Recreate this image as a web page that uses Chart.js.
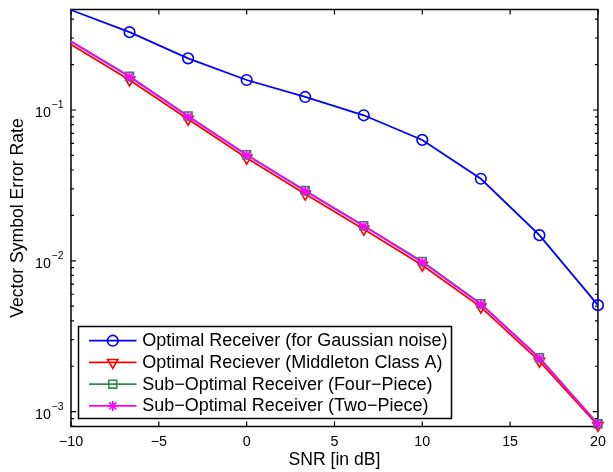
<!DOCTYPE html>
<html>
<head>
<meta charset="utf-8">
<script src="https://cdn.jsdelivr.net/npm/chart.js@4/dist/chart.umd.min.js"></script>
<style>
  html, body { margin: 0; padding: 0; background: #fff; }
  canvas { display: block; }
</style>
</head>
<body>
<canvas id="ser" width="613" height="472"></canvas>
<script>
// SNR sweep (dB)
const snrDb = [-10, -6.667, -3.333, 0, 3.333, 6.667, 10, 13.333, 16.667, 20];

// Vector symbol error rate for each receiver
const serGaussianRx = [0.46, 0.328, 0.220, 0.158, 0.122, 0.0922, 0.0633, 0.0350, 0.0148, 0.00508];
const serClassARx   = [0.272, 0.158, 0.0868, 0.0480, 0.0277, 0.0162, 0.00935, 0.00493, 0.00216, 0.00081];
const serFourPiece  = [0.285, 0.167, 0.0912, 0.0505, 0.0292, 0.0171, 0.0099, 0.00520, 0.00228, 0.00083];
const serTwoPiece   = [0.284, 0.166, 0.0905, 0.0503, 0.0290, 0.0170, 0.0098, 0.00516, 0.00226, 0.000828];

const seriesLabels = [
  'Optimal Receiver (for Gaussian noise)',
  'Optimal Reciever (Middleton Class A)',
  'Sub\u2212Optimal Receiver (Four\u2212Piece)',
  'Sub\u2212Optimal Receiver (Two\u2212Piece)'
];

// Axis ticks
const xTickValues = [-10, -5, 0, 5, 10, 15, 20];
const yDecadeExponents = [-3, -2, -1];
const yRange = [7.97e-4, 0.4636];

const FONT = '"Liberation Sans", Arial, Helvetica, sans-serif';

function pts(ys) { return snrDb.map((x, i) => ({ x: x, y: ys[i] })); }

// marker hidden on the first sample of every curve
const markerRadius = r => (c => c.dataIndex === 0 ? 0 : r);

const datasets = [
  { label: seriesLabels[0], data: pts(serGaussianRx), borderColor: '#0000ff',
    pointStyle: 'circle', radius: 5.3, rotation: 0, order: 3 },
  { label: seriesLabels[1], data: pts(serClassARx), borderColor: '#ff0000',
    pointStyle: 'triangle', radius: 6, rotation: 180, order: 2 },
  { label: seriesLabels[2], data: pts(serFourPiece), borderColor: '#2e8b57',
    pointStyle: 'rect', radius: 5.6, rotation: 0, order: 1 },
  { label: seriesLabels[3], data: pts(serTwoPiece), borderColor: '#ff00ff',
    pointStyle: 'star', radius: 5, rotation: 0, order: 0 }
].map(d => ({
  label: d.label,
  data: d.data,
  order: d.order,
  borderColor: d.borderColor,
  backgroundColor: 'rgba(0,0,0,0)',
  borderWidth: 1.8,
  tension: 0,
  fill: false,
  clip: false,
  pointStyle: d.pointStyle,
  pointRotation: d.rotation,
  pointRadius: markerRadius(d.radius),
  pointBorderColor: d.borderColor,
  pointBackgroundColor: 'rgba(0,0,0,0)',
  pointBorderWidth: 1.6,
  _legendRadius: d.radius
}));

// Box, inward tick marks and exponent-style y labels
const framePlugin = {
  id: 'frame',
  beforeDatasetsDraw(chart) {
    const { ctx, chartArea: a, scales } = chart;
    const xs = scales.x, ys = scales.y;
    ctx.save();
    ctx.strokeStyle = '#000';
    ctx.lineWidth = 1.5;
    ctx.strokeRect(a.left, a.top, a.right - a.left, a.bottom - a.top);

    ctx.beginPath();
    xTickValues.forEach(v => {
      const px = xs.getPixelForValue(v);
      ctx.moveTo(px, a.bottom); ctx.lineTo(px, a.bottom - 5);
      ctx.moveTo(px, a.top);    ctx.lineTo(px, a.top + 5);
    });
    for (let e = -4; e <= 0; e++) {
      for (let k = 1; k <= 9; k++) {
        const v = k * Math.pow(10, e);
        if (v < yRange[0] || v > yRange[1]) continue;
        const py = ys.getPixelForValue(v);
        const len = k === 1 ? 5 : 3;
        ctx.moveTo(a.left, py);  ctx.lineTo(a.left + len, py);
        ctx.moveTo(a.right, py); ctx.lineTo(a.right - len, py);
      }
    }
    ctx.lineWidth = 1.2;
    ctx.stroke();

    // y tick labels: 10 with a raised exponent
    ctx.fillStyle = '#000';
    ctx.textBaseline = 'alphabetic';
    const xr = a.left - 7.5;
    yDecadeExponents.forEach(e => {
      const py = ys.getPixelForValue(Math.pow(10, e));
      const expText = '\u2212' + Math.abs(e);
      ctx.font = '10.5px ' + FONT;
      const ew = ctx.measureText(expText).width;
      ctx.textAlign = 'left';
      ctx.fillText(expText, xr - ew, py - 1.7);
      ctx.font = '14.3px ' + FONT;
      ctx.textAlign = 'right';
      ctx.fillText('10', xr - ew - 0.6, py + 7.3);
    });
    ctx.restore();
  }
};

// Boxed legend inside the lower-left of the plot area
const boxLegendPlugin = {
  id: 'boxLegend',
  afterDatasetsDraw(chart) {
    const { ctx, chartArea: a } = chart;
    const bx = a.left + 7.5, by = a.bottom - 100, bw = 373, bh = 92;
    ctx.save();
    ctx.fillStyle = '#fff';
    ctx.fillRect(bx, by, bw, bh);
    ctx.strokeStyle = '#000';
    ctx.lineWidth = 1.5;
    ctx.strokeRect(bx, by, bw, bh);

    chart.data.datasets.forEach((ds, i) => {
      const cy = by + 14.2 + i * 21.75;
      ctx.strokeStyle = ds.borderColor;
      ctx.lineWidth = ds.borderWidth;
      ctx.beginPath();
      ctx.moveTo(bx + 10.5, cy);
      ctx.lineTo(bx + 58, cy);
      ctx.stroke();
      ctx.fillStyle = 'rgba(0,0,0,0)';
      ctx.lineWidth = ds.pointBorderWidth;
      Chart.helpers.drawPoint(ctx, {
        pointStyle: ds.pointStyle,
        radius: ds._legendRadius,
        rotation: ds.pointRotation,
        borderWidth: ds.pointBorderWidth
      }, bx + 34.3, cy);
      ctx.fillStyle = '#000';
      ctx.font = '18px ' + FONT;
      ctx.textAlign = 'left';
      ctx.textBaseline = 'middle';
      ctx.fillText(ds.label, bx + 63.8, cy + 0.5);
    });
    ctx.restore();
  }
};

new Chart(document.getElementById('ser'), {
  type: 'line',
  data: { datasets: datasets },
  options: {
    responsive: false,
    animation: false,
    events: [],
    layout: { padding: { top: 9.5, right: 10, left: 0, bottom: 0 } },
    plugins: { legend: { display: false }, tooltip: { enabled: false } },
    scales: {
      x: {
        type: 'linear',
        min: -10, max: 20,
        grid: { display: false, drawTicks: false },
        border: { display: false },
        afterBuildTicks: s => { s.ticks = xTickValues.map(v => ({ value: v })); },
        afterFit: s => { s.height = 45.5; },
        ticks: {
          color: '#000',
          padding: 7.1,
          maxRotation: 0,
          autoSkip: false,
          font: { family: FONT, size: 14.3 },
          callback: v => (v < 0 ? '\u2212' + Math.abs(v) : String(v))
        },
        title: {
          display: true,
          text: 'SNR [in dB]',
          color: '#000',
          font: { family: FONT, size: 17.6 },
          padding: { top: 0, bottom: 1.5 }
        }
      },
      y: {
        type: 'logarithmic',
        min: yRange[0], max: yRange[1],
        grid: { display: false, drawTicks: false },
        border: { display: false },
        ticks: { display: false },
        afterFit: s => { s.width = 71; },
        title: {
          display: true,
          text: 'Vector Symbol Error Rate',
          color: '#000',
          font: { family: FONT, size: 17.6 },
          padding: { top: 7.5, bottom: 0 }
        }
      }
    }
  },
  plugins: [framePlugin, boxLegendPlugin]
});
</script>
</body>
</html>
